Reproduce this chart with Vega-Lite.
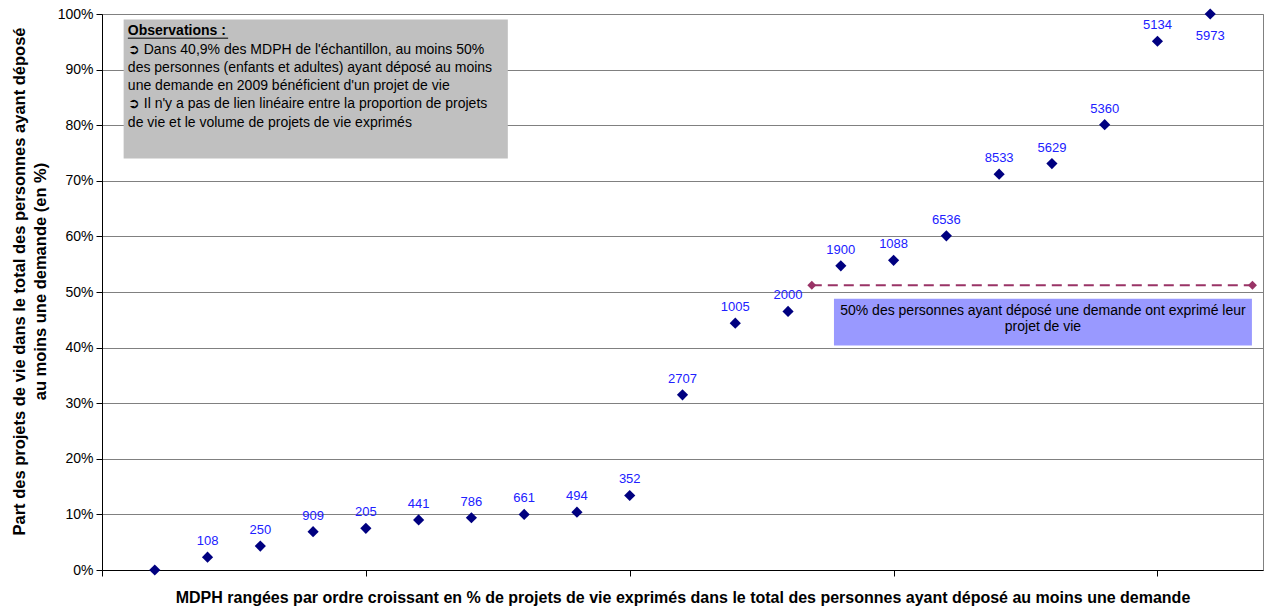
{
  "$schema": "https://vega.github.io/schema/vega-lite/v6.json",
  "autosize": "none",
  "width": 1161,
  "height": 556,
  "padding": {"left": 102, "top": 14, "right": 2, "bottom": 38},
  "background": "white",
  "config": {
    "font": "Liberation Sans",
    "view": {"stroke": "#808080", "strokeWidth": 1}
  },
  "datasets": {
    "pts": [
      {"idx": 1, "pct": 0, "n": ""},
      {"idx": 2, "pct": 2.3, "n": "108"},
      {"idx": 3, "pct": 4.3, "n": "250"},
      {"idx": 4, "pct": 6.9, "n": "909"},
      {"idx": 5, "pct": 7.5, "n": "205"},
      {"idx": 6, "pct": 9.0, "n": "441"},
      {"idx": 7, "pct": 9.4, "n": "786"},
      {"idx": 8, "pct": 10.0, "n": "661"},
      {"idx": 9, "pct": 10.4, "n": "494"},
      {"idx": 10, "pct": 13.4, "n": "352"},
      {"idx": 11, "pct": 31.5, "n": "2707"},
      {"idx": 12, "pct": 44.4, "n": "1005"},
      {"idx": 13, "pct": 46.5, "n": "2000"},
      {"idx": 14, "pct": 54.7, "n": "1900"},
      {"idx": 15, "pct": 55.7, "n": "1088"},
      {"idx": 16, "pct": 60.1, "n": "6536"},
      {"idx": 17, "pct": 71.2, "n": "8533"},
      {"idx": 18, "pct": 73.1, "n": "5629"},
      {"idx": 19, "pct": 80.1, "n": "5360"},
      {"idx": 20, "pct": 95.1, "n": "5134"},
      {"idx": 21, "pct": 100, "n": "5973"}
    ],
    "ref": [
      {"idx": 13.45, "pct": 51.2},
      {"idx": 21.8, "pct": 51.2}
    ]
  },
  "layer": [
    {
      "data": {"values": [{"x": 0.41, "x2": 7.69, "y": 99.0, "y2": 74.0}]},
      "mark": {"type": "rect", "color": "#C0C0C0"},
      "encoding": {
        "x": {"field": "x", "type": "quantitative", "scale": {"domain": [0, 22]},
          "axis": {"values": [0, 5, 10, 15, 20], "labels": false, "grid": false, "domainColor": "#000000", "tickColor": "#000000", "tickSize": 6,
            "title": "MDPH rangées par ordre croissant en % de projets de vie exprimés dans le total des personnes ayant déposé au moins une demande",
            "titleFont": "Liberation Sans", "titleFontSize": 16, "titleFontWeight": "bold", "titleColor": "#000000", "titlePadding": 13}},
        "x2": {"field": "x2"},
        "y": {"field": "y", "type": "quantitative", "scale": {"domain": [0, 100]},
          "axis": {"values": [0, 10, 20, 30, 40, 50, 60, 70, 80, 90, 100], "labelExpr": "datum.value + '%'",
            "labelFont": "Liberation Sans", "labelFontSize": 14, "labelColor": "#000000", "labelPadding": 3,
            "grid": true, "gridColor": "#808080", "gridWidth": 1, "domainColor": "#000000", "tickColor": "#000000", "tickSize": 6,
            "title": ["Part des projets de vie dans le total des personnes ayant déposé", "au moins une demande (en %)"],
            "titleFont": "Liberation Sans", "titleFontSize": 16.5, "titleFontWeight": "bold", "titleColor": "#000000",
            "titleLineHeight": 21, "titleX": -75, "titleY": 267, "titleAlign": "center", "titleAngle": 270, "titleBaseline": "bottom"}},
        "y2": {"field": "y2"}
      }
    },
    {
      "data": {"values": [{"x": 13.87, "x2": 21.79, "y": 48.8, "y2": 40.4}]},
      "mark": {"type": "rect", "color": "#9999FF"},
      "encoding": {
        "x": {"field": "x", "type": "quantitative"},
        "x2": {"field": "x2"},
        "y": {"field": "y", "type": "quantitative"},
        "y2": {"field": "y2"}
      }
    },
    {
      "data": {"name": "ref"},
      "mark": {"type": "line", "color": "#993366", "strokeWidth": 2, "strokeDash": [10, 6]},
      "encoding": {
        "x": {"field": "idx", "type": "quantitative"},
        "y": {"field": "pct", "type": "quantitative"}
      }
    },
    {
      "data": {"name": "ref"},
      "mark": {"type": "point", "shape": "diamond", "filled": true, "color": "#993366", "size": 80, "opacity": 1},
      "encoding": {
        "x": {"field": "idx", "type": "quantitative"},
        "y": {"field": "pct", "type": "quantitative"}
      }
    },
    {
      "data": {"name": "pts"},
      "mark": {"type": "point", "shape": "diamond", "filled": true, "color": "#000080", "size": 125, "opacity": 1},
      "encoding": {
        "x": {"field": "idx", "type": "quantitative"},
        "y": {"field": "pct", "type": "quantitative"}
      }
    },
    {
      "data": {"name": "pts"},
      "transform": [{"filter": "datum.idx < 21"}],
      "mark": {"type": "text", "font": "Liberation Sans", "fontSize": 13, "color": "#2020FF", "baseline": "middle", "align": "center", "dy": -16},
      "encoding": {
        "x": {"field": "idx", "type": "quantitative"},
        "y": {"field": "pct", "type": "quantitative"},
        "text": {"field": "n"}
      }
    },
    {
      "data": {"name": "pts"},
      "transform": [{"filter": "datum.idx == 21"}],
      "mark": {"type": "text", "font": "Liberation Sans", "fontSize": 13, "color": "#2020FF", "baseline": "middle", "align": "center", "dy": 22},
      "encoding": {
        "x": {"field": "idx", "type": "quantitative"},
        "y": {"field": "pct", "type": "quantitative"},
        "text": {"field": "n"}
      }
    },
    {
      "data": {"values": [{"x": 0.49, "y": 96.9, "t": "Observations :"}]},
      "mark": {"type": "text", "font": "Liberation Sans", "fontSize": 14, "fontWeight": "bold", "color": "#000000", "align": "left", "baseline": "middle"},
      "encoding": {
        "x": {"field": "x", "type": "quantitative"},
        "y": {"field": "y", "type": "quantitative"},
        "text": {"field": "t"}
      }
    },
    {
      "data": {"values": [{"x": 0.49, "x2": 2.39, "y": 95.65}]},
      "mark": {"type": "rule", "color": "#000000", "strokeWidth": 1},
      "encoding": {
        "x": {"field": "x", "type": "quantitative"},
        "x2": {"field": "x2"},
        "y": {"field": "y", "type": "quantitative"}
      }
    },
    {
      "data": {"values": [{"x": 0.49, "y": 93.6, "t": ["➲ Dans 40,9% des MDPH de l'échantillon, au moins 50%", "des personnes (enfants et adultes) ayant déposé au moins", "une demande en 2009 bénéficient d'un projet de vie", "➲ Il n'y a pas de lien linéaire entre la proportion de projets", "de vie et le volume de projets de vie exprimés"]}]},
      "mark": {"type": "text", "font": "Liberation Sans", "fontSize": 14, "color": "#000000", "align": "left", "baseline": "middle", "lineHeight": 18.3},
      "encoding": {
        "x": {"field": "x", "type": "quantitative"},
        "y": {"field": "y", "type": "quantitative"},
        "text": {"field": "t"}
      }
    },
    {
      "data": {"values": [{"x": 17.83, "y": 46.66, "t": ["50% des personnes ayant déposé une demande ont exprimé leur", "projet de vie"]}]},
      "mark": {"type": "text", "font": "Liberation Sans", "fontSize": 14, "color": "#000000", "align": "center", "baseline": "middle", "lineHeight": 16.6},
      "encoding": {
        "x": {"field": "x", "type": "quantitative"},
        "y": {"field": "y", "type": "quantitative"},
        "text": {"field": "t"}
      }
    }
  ]
}
